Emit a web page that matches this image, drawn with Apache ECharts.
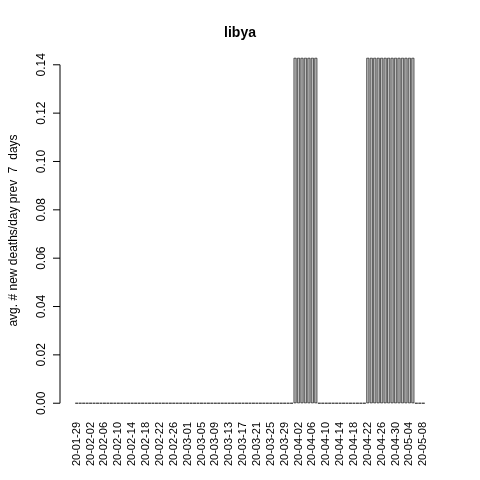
<!DOCTYPE html>
<html>
<head>
<meta charset="utf-8">
<script src="https://cdn.jsdelivr.net/npm/echarts@6/dist/echarts.min.js"></script>
</head>
<body style="margin:0">
<div id="main" style="width:480px;height:480px"></div>
<script>
// daily dates 20-01-29 .. 20-05-08
const dates = [];
for (let d = new Date(Date.UTC(2020, 0, 29)); d <= new Date(Date.UTC(2020, 4, 8)); d.setUTCDate(d.getUTCDate() + 1)) {
  const m = String(d.getUTCMonth() + 1).padStart(2, "0");
  const dd = String(d.getUTCDate()).padStart(2, "0");
  dates.push("20-" + m + "-" + dd);
}
const h = 0.142857;
const values = [
  0,0,0,0,0,0,0,0,0,0, 0,0,0,0,0,0,0,0,0,0,
  0,0,0,0,0,0,0,0,0,0, 0,0,0,0,0,0,0,0,0,0,
  0,0,0,0,0,0,0,0,0,0, 0,0,0,0,0,0,0,0,0,0,
  0,0,0,h,h,h,h,h,h,h, 0,0,0,0,0,0,0,0,0,0,
  0,0,0,0,h,h,h,h,h,h, h,h,h,h,h,h,h,h,0,0,
  0
];
const yTicks = [0, 0.02, 0.04, 0.06, 0.08, 0.10, 0.12, 0.14];

const chart = echarts.init(document.getElementById("main"));
chart.setOption({
  animation: false,
  title: {
    text: "libya", left: "center", top: 21,
    textStyle: { fontFamily: "Liberation Sans", fontSize: 14, fontWeight: "bold", color: "#000" }
  },
  grid: { left: 68, right: 55, top: 44, bottom: 63 },
  xAxis: {
    type: "category",
    data: dates,
    axisLine: { show: false },
    axisTick: { show: false },
    axisLabel: {
      interval: 3, rotate: 90, margin: 5,
      fontFamily: "Liberation Sans", fontSize: 11, color: "#000"
    }
  },
  yAxis: {
    type: "value",
    min: -0.0057, max: 0.1486,
    splitLine: { show: false },
    axisLine: { show: false },
    axisTick: { show: false },
    axisLabel: { show: false },
    name: "avg. # new deaths/day prev  7  days",
    nameLocation: "middle",
    nameGap: 55,
    nameTextStyle: { fontFamily: "Liberation Sans", fontSize: 12, color: "#000" }
  },
  series: [
    {
      type: "bar",
      data: values,
      barCategoryGap: "16%",
      itemStyle: { color: "#bebebe", borderColor: "#000", borderWidth: 0.6 }
    }
  ]
});

// draw R-style y axis with ticks from the axis scale
const x0 = 60;
const yTop = chart.convertToPixel({ yAxisIndex: 0 }, yTicks[yTicks.length - 1]);
const yBot = chart.convertToPixel({ yAxisIndex: 0 }, yTicks[0]);
const g = [{ type: "line", shape: { x1: x0, y1: yTop, x2: x0, y2: yBot }, style: { stroke: "#000", lineWidth: 1 } }];
yTicks.forEach(t => {
  const y = chart.convertToPixel({ yAxisIndex: 0 }, t);
  g.push({ type: "line", shape: { x1: x0 - 7, y1: y, x2: x0, y2: y }, style: { stroke: "#000", lineWidth: 1 } });
  g.push({
    type: "text", x: x0 - 12, y: y, rotation: Math.PI / 2,
    style: { text: t.toFixed(2), fill: "#000", font: "12px Liberation Sans", align: "center", verticalAlign: "bottom" }
  });
});
chart.setOption({ graphic: g });
</script>
</body>
</html>
